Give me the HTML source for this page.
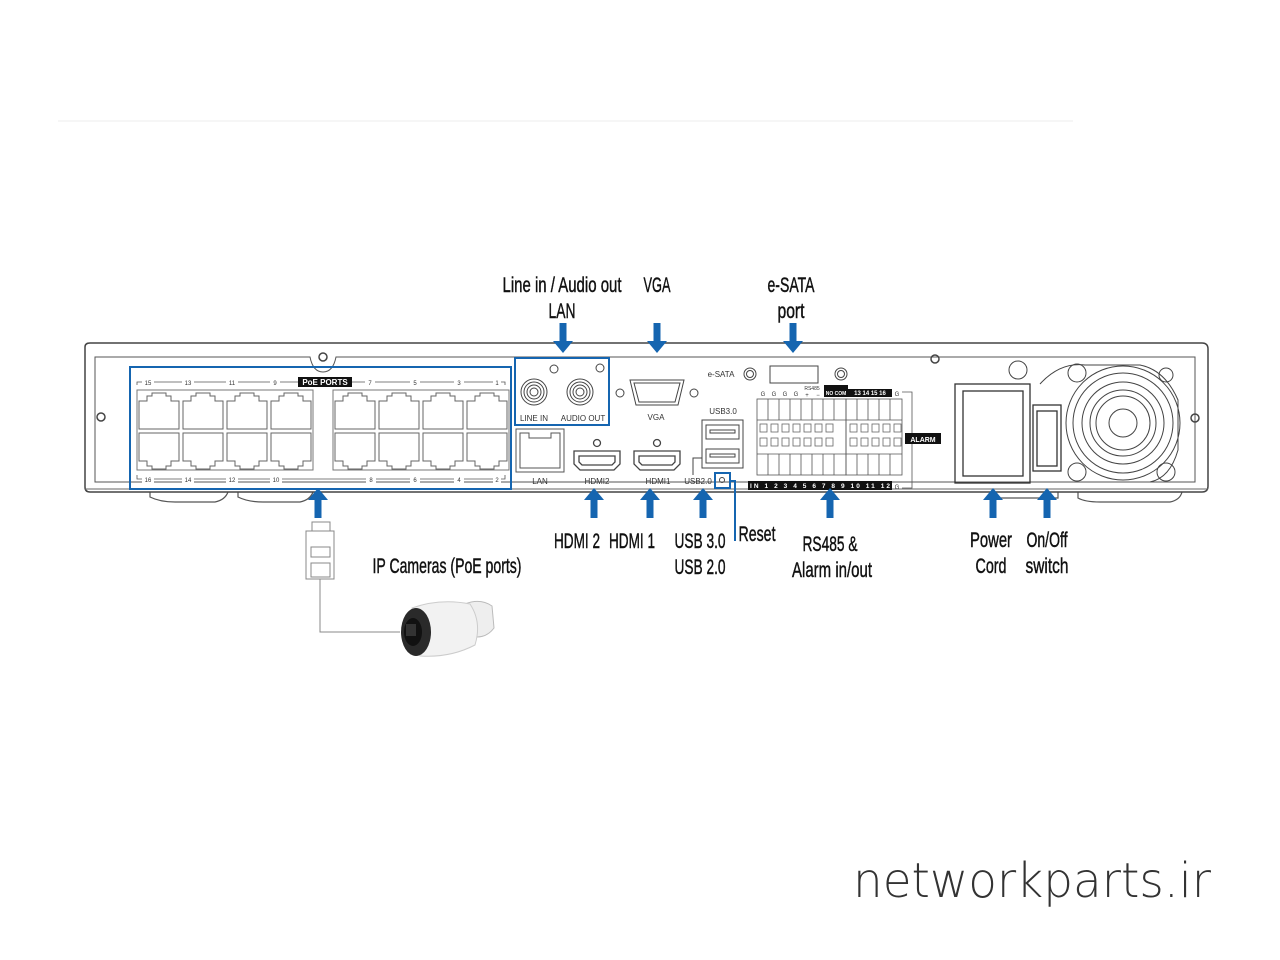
<!DOCTYPE html>
<html><head><meta charset="utf-8"><style>
html,body{margin:0;padding:0;background:#fff;}
svg{display:block;}
.lb{font-family:"Liberation Sans Narrow","Liberation Sans",sans-serif;font-size:21px;fill:#111;stroke:#111;stroke-width:0.45;}
.sm{font-family:"Liberation Sans",sans-serif;font-size:8px;fill:#333;}
.tn{font-family:"Liberation Sans",sans-serif;font-size:6px;fill:#333;}
</style></head><body>
<svg width="1280" height="960" viewBox="0 0 1280 960" xmlns="http://www.w3.org/2000/svg">
<defs>
<g id="pt"><path d="M2 9 H10 V4 H15 V1 H29 V4 H34 V9 H42 V37 H2 Z" fill="none" stroke="#666" stroke-width="1"/></g>
<g id="pb"><path d="M2 1 H42 V29 H34 V34 H29 V37 H15 V34 H10 V29 H2 Z" fill="none" stroke="#666" stroke-width="1"/></g>
<g id="au"><path d="M0 -8 L-10 -8 L0 -20 L10 -8 L0 -8" fill="#1565b0"/><rect x="-3.5" y="-9" width="7" height="19" fill="#1565b0"/></g>
<g id="ad"><path d="M-10 8 L0 20 L10 8 Z" fill="#1565b0"/><rect x="-3.5" y="-10" width="7" height="19" fill="#1565b0"/></g>
</defs>
<line x1="58" y1="121" x2="1073" y2="121" stroke="#eee" stroke-width="1"/>

<g fill="none" stroke="#555" stroke-width="1.2">
<path d="M150 492 V497 Q160 502 175 502 H215 Q225 500 228 492"/>
<path d="M238 492 V497 Q248 502 263 502 H300 Q310 500 313 492"/>
<path d="M1078 492 V498 Q1085 502 1100 502 H1170 Q1180 500 1182 492"/>
<path d="M996 492 V498 H1058 V492"/>
</g>
<path d="M85 347 Q85 343 90 343 H1202 Q1208 343 1208 349 V486 Q1208 492 1202 492 H90 Q85 492 85 487 Z" fill="#fff" stroke="#444" stroke-width="1.5"/>
<path d="M95 357 H310 Q313 372 323 372 Q333 372 336 357 H1195 V482 H95 Z" fill="none" stroke="#555" stroke-width="1"/>
<line x1="85" y1="489" x2="1208" y2="489" stroke="#666" stroke-width="1"/>
<circle cx="323" cy="357" r="4" fill="none" stroke="#444" stroke-width="1.5"/>
<circle cx="101" cy="417" r="4" fill="none" stroke="#444" stroke-width="1.5"/>
<circle cx="1195" cy="418" r="4" fill="none" stroke="#444" stroke-width="1.5"/>
<circle cx="935" cy="359" r="4" fill="none" stroke="#444" stroke-width="1.5"/>

<rect x="130" y="367" width="381" height="122" fill="none" stroke="#1565b0" stroke-width="2"/>
<rect x="137" y="390" width="176" height="80" fill="none" stroke="#777" stroke-width="1"/>
<rect x="333" y="390" width="176" height="80" fill="none" stroke="#777" stroke-width="1"/>
<g>
<use href="#pt" x="137" y="392"/><use href="#pt" x="181" y="392"/><use href="#pt" x="225" y="392"/><use href="#pt" x="269" y="392"/>
<use href="#pt" x="333" y="392"/><use href="#pt" x="377" y="392"/><use href="#pt" x="421" y="392"/><use href="#pt" x="465" y="392"/>
<use href="#pb" x="137" y="432"/><use href="#pb" x="181" y="432"/><use href="#pb" x="225" y="432"/><use href="#pb" x="269" y="432"/>
<use href="#pb" x="333" y="432"/><use href="#pb" x="377" y="432"/><use href="#pb" x="421" y="432"/><use href="#pb" x="465" y="432"/>
</g>
<g stroke="#555" stroke-width="0.8" fill="none"><path d="M137 385 V382 H298"/><path d="M352 382 H505 V385"/><path d="M137 475 V479 H505 V475"/></g>
<g class="tn" text-anchor="middle">
<rect x="142" y="378" width="12" height="8" fill="#fff"/><text x="148" y="385">15</text>
<rect x="182" y="378" width="12" height="8" fill="#fff"/><text x="188" y="385">13</text>
<rect x="226" y="378" width="12" height="8" fill="#fff"/><text x="232" y="385">11</text>
<rect x="270" y="378" width="10" height="8" fill="#fff"/><text x="275" y="385">9</text>
<rect x="365" y="378" width="10" height="8" fill="#fff"/><text x="370" y="385">7</text>
<rect x="410" y="378" width="10" height="8" fill="#fff"/><text x="415" y="385">5</text>
<rect x="454" y="378" width="10" height="8" fill="#fff"/><text x="459" y="385">3</text>
<rect x="493" y="378" width="8" height="8" fill="#fff"/><text x="497" y="385">1</text>
<rect x="142" y="475" width="12" height="8" fill="#fff"/><text x="148" y="482">16</text>
<rect x="182" y="475" width="12" height="8" fill="#fff"/><text x="188" y="482">14</text>
<rect x="226" y="475" width="12" height="8" fill="#fff"/><text x="232" y="482">12</text>
<rect x="270" y="475" width="12" height="8" fill="#fff"/><text x="276" y="482">10</text>
<rect x="366" y="475" width="10" height="8" fill="#fff"/><text x="371" y="482">8</text>
<rect x="410" y="475" width="10" height="8" fill="#fff"/><text x="415" y="482">6</text>
<rect x="454" y="475" width="10" height="8" fill="#fff"/><text x="459" y="482">4</text>
<rect x="493" y="475" width="8" height="8" fill="#fff"/><text x="497" y="482">2</text>
</g>
<rect x="298" y="377" width="54" height="10" fill="#111"/>
<text x="325" y="385" text-anchor="middle" font-family="Liberation Sans,sans-serif" font-size="8" font-weight="bold" fill="#fff">PoE PORTS</text>

<rect x="515" y="358" width="94" height="67" fill="none" stroke="#1565b0" stroke-width="2"/>
<g fill="none" stroke="#444" stroke-width="1">
<circle cx="534" cy="392" r="13"/><circle cx="534" cy="392" r="10"/><circle cx="534" cy="392" r="7"/><circle cx="534" cy="392" r="4"/>
<circle cx="580" cy="392" r="13"/><circle cx="580" cy="392" r="10"/><circle cx="580" cy="392" r="7"/><circle cx="580" cy="392" r="4"/>
<circle cx="554" cy="369" r="4"/><circle cx="600" cy="368" r="4"/>
</g>
<text x="534" y="421" text-anchor="middle" class="sm">LINE IN</text>
<text x="583" y="421" text-anchor="middle" class="sm">AUDIO OUT</text>
<g fill="none" stroke="#444" stroke-width="1">
<path d="M630 380 H684 L678 405 H636 Z"/><path d="M634 383 H680 L675 402 H639 Z"/>
<circle cx="620" cy="393" r="4"/><circle cx="694" cy="393" r="4"/>
</g>
<text x="656" y="420" text-anchor="middle" class="sm">VGA</text>
<g fill="none" stroke="#555" stroke-width="1">
<rect x="516" y="429" width="48" height="43"/>
<path d="M520 433 H529 V438 H551 V433 H560 V468 H520 Z"/>
</g>
<text x="540" y="484" text-anchor="middle" class="sm">LAN</text>
<g fill="none" stroke="#444" stroke-width="1.3">
<circle cx="597" cy="443" r="3.5"/><circle cx="657" cy="443" r="3.5"/>
<path d="M574 451 H620 V464 L614 470 H580 L574 464 Z"/><path d="M579 456 H615 V462 L612 465 H582 L579 462 Z"/>
<path d="M634 451 H680 V464 L674 470 H640 L634 464 Z"/><path d="M639 456 H675 V462 L672 465 H642 L639 462 Z"/>
</g>
<text x="597" y="484" text-anchor="middle" class="sm">HDMI2</text>
<text x="658" y="484" text-anchor="middle" class="sm">HDMI1</text>
<text x="723" y="414" text-anchor="middle" class="sm">USB3.0</text>
<g fill="none" stroke="#444" stroke-width="1">
<rect x="702" y="420" width="41" height="48"/><rect x="706" y="425" width="33" height="14"/><rect x="706" y="449" width="33" height="14"/>
<rect x="710" y="430" width="25" height="3"/><rect x="710" y="454" width="25" height="3"/>
<path d="M702 458 H693 V475"/>
</g>
<text x="698" y="484" text-anchor="middle" class="sm">USB2.0</text>
<rect x="715" y="473" width="15" height="15" fill="none" stroke="#1565b0" stroke-width="2"/>
<circle cx="722" cy="480" r="2.5" fill="none" stroke="#444"/>
<path d="M730 481 H735 V541" fill="none" stroke="#1565b0" stroke-width="2"/>
<text x="721" y="377" text-anchor="middle" class="sm">e-SATA</text>
<g fill="none" stroke="#444" stroke-width="1">
<circle cx="750" cy="374" r="6"/><circle cx="750" cy="374" r="3.5"/>
<rect x="770" y="366" width="48" height="17"/>
<circle cx="841" cy="374" r="6"/><circle cx="841" cy="374" r="3.5"/>
</g>
<g class="tn" text-anchor="middle"><text x="763" y="396">G</text><text x="774" y="396">G</text><text x="785" y="396">G</text><text x="796" y="396">G</text><text x="807" y="397">+</text><text x="818" y="397">−</text><text x="812" y="390" font-size="5">RS485</text><text x="897" y="396">G</text><text x="897" y="489">G</text></g>
<rect x="824" y="385" width="24" height="12" fill="#111"/>
<rect x="848" y="389" width="44" height="8" fill="#111"/>
<text x="870" y="395" text-anchor="middle" font-family="Liberation Sans,sans-serif" font-size="6" font-weight="bold" fill="#fff">13 14 15 16</text>
<text x="836" y="395" text-anchor="middle" font-family="Liberation Sans,sans-serif" font-size="5" font-weight="bold" fill="#fff">NO COM</text>
<g fill="none" stroke="#555" stroke-width="0.8">
<rect x="757" y="399" width="89" height="76"/><rect x="846" y="399" width="56" height="76"/>
<path d="M768 399V420M779 399V420M790 399V420M801 399V420M812 399V420M823 399V420M834 399V420M757 420H846"/>
<path d="M768 454V475M779 454V475M790 454V475M801 454V475M812 454V475M823 454V475M834 454V475M757 454H846"/>
<path d="M857 399V420M868 399V420M879 399V420M890 399V420M846 420H902"/>
<path d="M857 454V475M868 454V475M879 454V475M890 454V475M846 454H902"/>
<path d="M902 392 H912 V488 H902"/>
</g>
<g fill="none" stroke="#666" stroke-width="0.8">
<rect x="760" y="424" width="7" height="8"/><rect x="771" y="424" width="7" height="8"/><rect x="782" y="424" width="7" height="8"/><rect x="793" y="424" width="7" height="8"/><rect x="804" y="424" width="7" height="8"/><rect x="815" y="424" width="7" height="8"/><rect x="826" y="424" width="7" height="8"/>
<rect x="760" y="438" width="7" height="8"/><rect x="771" y="438" width="7" height="8"/><rect x="782" y="438" width="7" height="8"/><rect x="793" y="438" width="7" height="8"/><rect x="804" y="438" width="7" height="8"/><rect x="815" y="438" width="7" height="8"/><rect x="826" y="438" width="7" height="8"/>
<rect x="850" y="424" width="7" height="8"/><rect x="861" y="424" width="7" height="8"/><rect x="872" y="424" width="7" height="8"/><rect x="883" y="424" width="7" height="8"/><rect x="894" y="424" width="7" height="8"/>
<rect x="850" y="438" width="7" height="8"/><rect x="861" y="438" width="7" height="8"/><rect x="872" y="438" width="7" height="8"/><rect x="883" y="438" width="7" height="8"/><rect x="894" y="438" width="7" height="8"/>
</g>
<rect x="748" y="481" width="144" height="9" fill="#111"/>
<text x="820" y="488" text-anchor="middle" font-family="Liberation Sans,sans-serif" font-size="6.5" font-weight="bold" fill="#fff" textLength="140" lengthAdjust="spacing">IN 1 2 3 4 5 6 7 8 9 10 11 12</text>
<rect x="905" y="433" width="36" height="11" fill="#111"/>
<text x="923" y="442" text-anchor="middle" font-family="Liberation Sans,sans-serif" font-size="7" font-weight="bold" fill="#fff">ALARM</text>
<g fill="none" stroke="#333" stroke-width="1.3">
<rect x="955" y="384" width="75" height="99"/><rect x="963" y="391" width="60" height="85"/>
<rect x="1033" y="405" width="28" height="66"/><rect x="1037" y="411" width="20" height="55"/>
</g>
<g fill="none" stroke="#444" stroke-width="1">
<circle cx="1018" cy="370" r="9"/><circle cx="1077" cy="373" r="9"/><circle cx="1077" cy="472" r="9"/><circle cx="1166" cy="472" r="9"/><circle cx="1166" cy="375" r="7"/>
<path d="M1040 384 Q1060 362 1085 365 H1140 Q1165 370 1178 400 V450 Q1170 478 1150 482"/>
<circle cx="1123" cy="423" r="57"/><circle cx="1123" cy="423" r="50"/><circle cx="1123" cy="423" r="41"/><circle cx="1123" cy="423" r="33"/><circle cx="1123" cy="423" r="27"/><circle cx="1123" cy="423" r="14"/>
</g>

<use href="#ad" x="563" y="333"/><use href="#ad" x="657" y="333"/><use href="#ad" x="793" y="333"/>
<use href="#au" x="318" y="508"/><use href="#au" x="594" y="508"/><use href="#au" x="650" y="508"/><use href="#au" x="703" y="508"/><use href="#au" x="830" y="508"/><use href="#au" x="993" y="508"/><use href="#au" x="1047" y="508"/>

<g class="lb" text-anchor="middle">
<text x="562" y="292" textLength="119" lengthAdjust="spacingAndGlyphs">Line in / Audio out</text>
<text x="562" y="318" textLength="27" lengthAdjust="spacingAndGlyphs">LAN</text>
<text x="657" y="292" textLength="27" lengthAdjust="spacingAndGlyphs">VGA</text>
<text x="791" y="292" textLength="47" lengthAdjust="spacingAndGlyphs">e-SATA</text>
<text x="791" y="318" textLength="27" lengthAdjust="spacingAndGlyphs">port</text>
<text x="577" y="548" textLength="46" lengthAdjust="spacingAndGlyphs">HDMI 2</text>
<text x="632" y="548" textLength="46" lengthAdjust="spacingAndGlyphs">HDMI 1</text>
<text x="700" y="548" textLength="51" lengthAdjust="spacingAndGlyphs">USB 3.0</text>
<text x="700" y="574" textLength="51" lengthAdjust="spacingAndGlyphs">USB 2.0</text>
<text x="757" y="541" textLength="37" lengthAdjust="spacingAndGlyphs">Reset</text>
<text x="830" y="551" textLength="55" lengthAdjust="spacingAndGlyphs">RS485 &amp;</text>
<text x="832" y="577" textLength="80" lengthAdjust="spacingAndGlyphs">Alarm in/out</text>
<text x="991" y="547" textLength="42" lengthAdjust="spacingAndGlyphs">Power</text>
<text x="991" y="573" textLength="31" lengthAdjust="spacingAndGlyphs">Cord</text>
<text x="1047" y="547" textLength="41" lengthAdjust="spacingAndGlyphs">On/Off</text>
<text x="1047" y="573" textLength="43" lengthAdjust="spacingAndGlyphs">switch</text>
<text x="447" y="573" textLength="149" lengthAdjust="spacingAndGlyphs">IP Cameras (PoE ports)</text>
</g>

<g fill="none" stroke="#888" stroke-width="1">
<rect x="312" y="522" width="18" height="10"/>
<rect x="306" y="531" width="28" height="48" fill="#fff"/>
<rect x="311" y="547" width="19" height="10"/><rect x="311" y="563" width="19" height="14"/>
<path d="M320 579 V632 H400"/>
</g>
<g>
<path d="M465 604 Q480 598 492 606 L494 628 Q485 640 470 636 Z" fill="#eee" stroke="#bbb"/>
<path d="M412 608 Q440 598 470 604 Q482 622 475 645 Q450 658 420 656 Z" fill="#f2f2f2" stroke="#ccc"/>
<ellipse cx="416" cy="632" rx="15" ry="24" fill="#2a2a2a"/>
<ellipse cx="413" cy="632" rx="9" ry="14" fill="#111"/>
<rect x="406" y="624" width="10" height="12" fill="#333"/>
</g>

<text x="1032" y="897" text-anchor="middle" font-family="DejaVu Sans,sans-serif" font-weight="200" font-size="48" fill="#333" textLength="358" lengthAdjust="spacingAndGlyphs">networkparts.ir</text>
</svg>
</body></html>
